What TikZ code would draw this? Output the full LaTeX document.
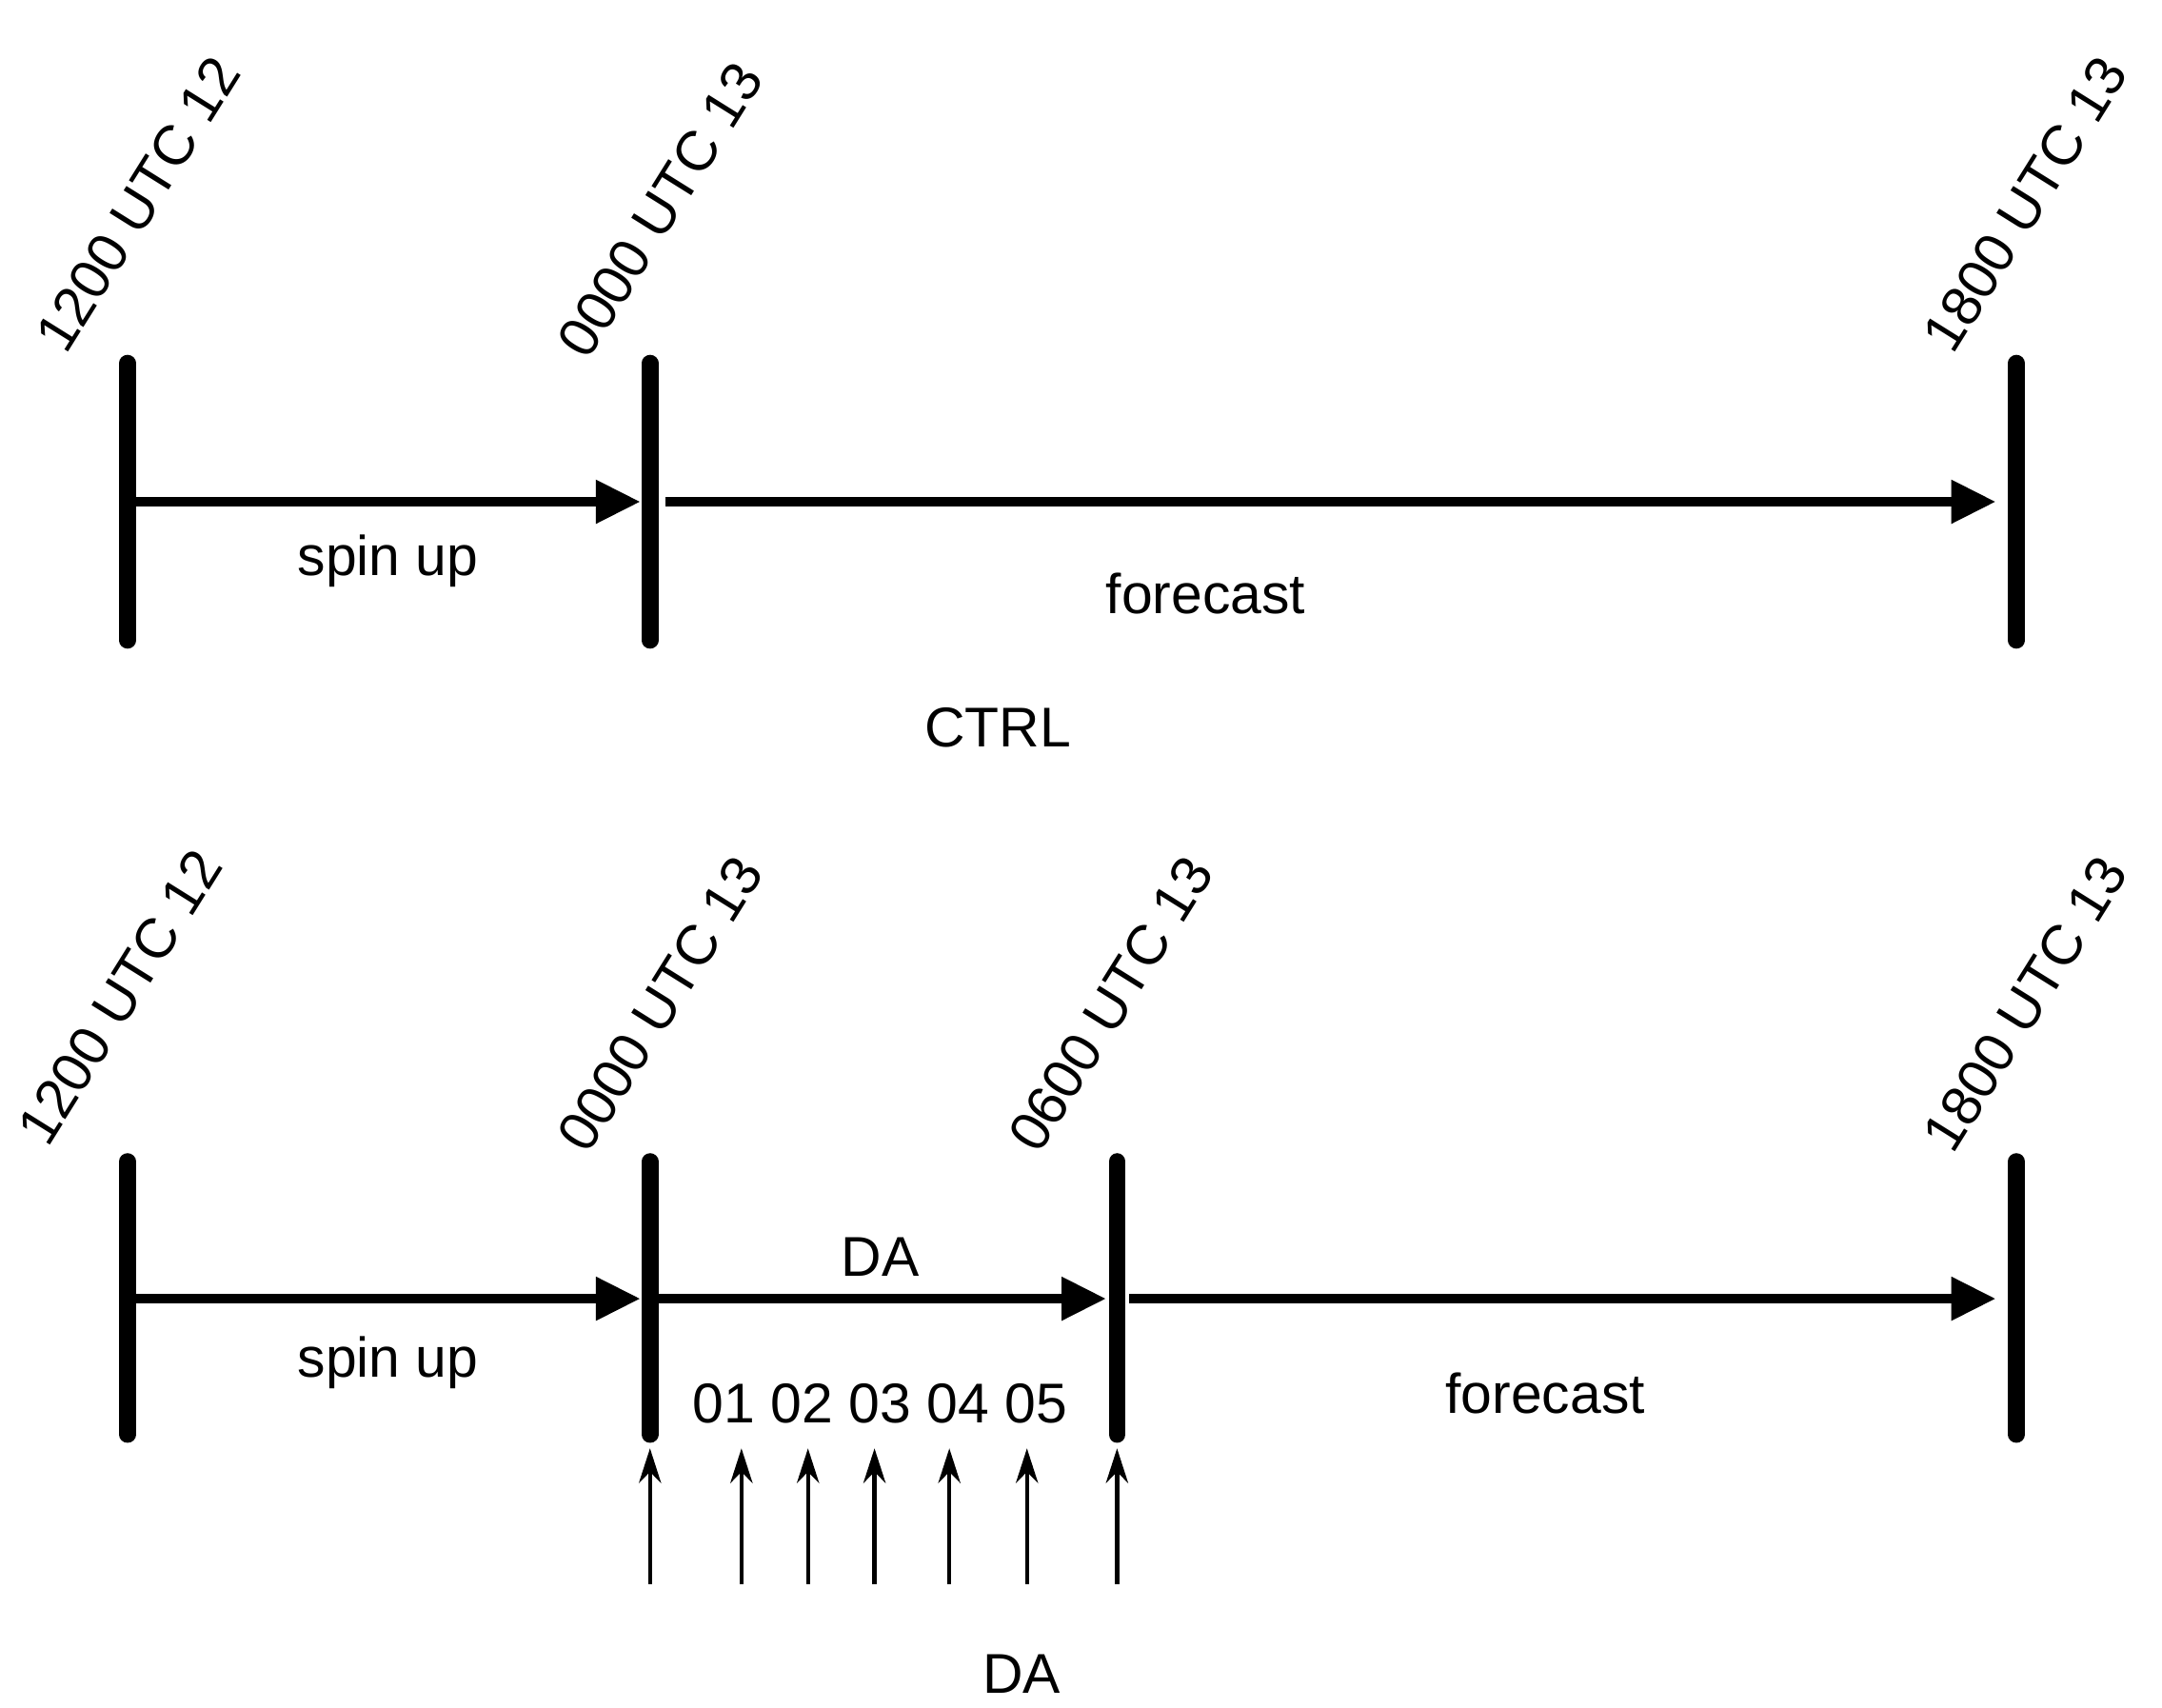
\documentclass[tikz,border=0pt]{standalone}
\usepackage{fontspec}
\setmainfont{Liberation Sans}
\usetikzlibrary{arrows.meta}
\begin{document}
\begin{tikzpicture}[x=0.01cm,y=-0.01cm,
  tick/.style={line width=0.12cm,line cap=round},
  arr/.style={line width=0.065cm,-{Triangle[length=0.32cm,width=0.3cm]}},
  obs/.style={line width=0.03cm,-{Stealth[length=0.25cm,width=0.16cm]}},
  lab/.style={font=\fontsize{11.5pt}{13pt}\selectfont,inner sep=0pt},
  tlab/.style={lab,rotate=58,anchor=south west}]
\useasboundingbox (0,0) rectangle (1560,1232);
% top row
\foreach \n/\x in {a/92,b/469,c/1455}{
  \coordinate (t\n1) at (\x,262); \coordinate (t\n2) at (\x,462);
  \draw[tick] (t\n1) -- (t\n2);}
\coordinate (ta) at (92,362); \coordinate (tb) at (462,362);
\coordinate (tb2) at (480,362); \coordinate (tc) at (1440,362);
\draw[arr] (ta) -- (tb);
\draw[arr] (tb2) -- (tc);
\node[tlab] (l1) at (48,258) {1200 UTC 12};
\node[tlab] (l2) at (425,262) {0000 UTC 13};
\node[tlab] (l3) at (1410,258) {1800 UTC 13};
\node[lab] (s1) at (280,405) {spin up};
\node[lab] (f1) at (870,428) {forecast};
\node[lab] (ctrl) at (720,525) {CTRL};
% bottom row
\foreach \n/\x in {a/92,b/469,c/806,d/1455}{
  \coordinate (b\n1) at (\x,838); \coordinate (b\n2) at (\x,1035);
  \draw[tick] (b\n1) -- (b\n2);}
\coordinate (ba) at (92,937); \coordinate (bb) at (462,937);
\coordinate (bb2) at (472,937); \coordinate (bc) at (798,937);
\coordinate (bc2) at (815,937); \coordinate (bd) at (1440,937);
\draw[arr] (ba) -- (bb);
\draw[arr] (bb2) -- (bc);
\draw[arr] (bc2) -- (bd);
\node[tlab] (m1) at (35,830) {1200 UTC 12};
\node[tlab] (m2) at (425,835) {0000 UTC 13};
\node[tlab] (m3) at (750,835) {0600 UTC 13};
\node[tlab] (m4) at (1410,835) {1800 UTC 13};
\node[lab] (da1) at (635,907) {DA};
\node[lab] (s2) at (280,983) {spin up};
\node[lab] (f2) at (1115,1005) {forecast};
\node[lab] (nums) at (635,1013) {01 02 03 04 05};
\foreach \i/\x in {1/469,2/535,3/583,4/631,5/685,6/741,7/806}{
  \coordinate (o\i a) at (\x,1143); \coordinate (o\i b) at (\x,1045);
  \draw[obs] (o\i a) -- (o\i b);}
\node[lab] (da2) at (737,1208) {DA};
\end{tikzpicture}
\end{document}
